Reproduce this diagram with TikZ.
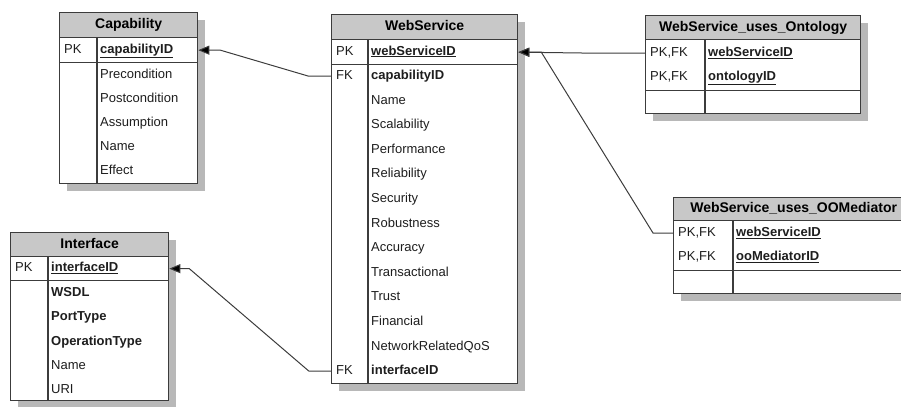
\documentclass[tikz,border=0pt]{standalone}
\usepackage{fontspec}
\setmainfont{Liberation Sans}
\usetikzlibrary{arrows.meta,positioning}
\definecolor{boxgray}{HTML}{3C3C3C}
\definecolor{headgray}{HTML}{C8C8C8}
\definecolor{shadegray}{HTML}{B8B8B8}
\definecolor{textgray}{HTML}{1E1E1E}

\begin{document}
\begin{tikzpicture}[
        x=1pt, y=-1pt,
        tblline/.style={draw=boxgray, line width=1.3pt},
        tblhead/.style={tblline, fill=headgray, anchor=north west, inner sep=0pt,
            text height=10pt, text depth=3pt, font=\fontsize{14}{16}\selectfont\bfseries},
        tblpart/.style={tblline, fill=white, anchor=north west, inner sep=0pt},
        tblshade/.style={fill=shadegray},
        field/.style={anchor=west, inner sep=0pt, text height=9.5pt, text depth=2.5pt,
            text=textgray, font=\fontsize{13}{15}\selectfont},
        keyfield/.style={field, font=\fontsize{13}{15}\selectfont\bfseries},
        fkline/.style={draw=boxgray, line width=1pt, -{Triangle[length=11pt,width=9pt,fill=black]}}
    ]
        \useasboundingbox (0,0) rectangle (901,408);
        \clip (0,0) rectangle (901,408);

        % Capability
        \fill[tblshade] (67,20) rectangle (205,191);
        \node[tblhead, minimum width=138, minimum height=25] (capHead) at (59,12) {Capability};
        \node[tblpart, minimum width=138, minimum height=25] (capKey) at (59,37) {};
        \node[tblpart, minimum width=138, minimum height=121] (capBody) at (59,62) {};
        \draw[tblline] (97,37) -- (97,183);
        \node[field] (capPK) at (64,49.5) {PK};
        \node[keyfield] (capID) at (100,49.5) {\underline{capabilityID}};
        \node[field] (capPre) at (100,75) {Precondition};
        \node[field] (capPost) at (100,99) {Postcondition};
        \node[field] (capAssum) at (100,123) {Assumption};
        \node[field] (capName) at (100,147) {Name};
        \node[field] (capEffect) at (100,171) {Effect};

        % WebService
        \fill[tblshade] (339,22) rectangle (525,391);
        \node[tblhead, minimum width=186, minimum height=25] (wsHead) at (331,14) {WebService};
        \node[tblpart, minimum width=186, minimum height=25] (wsKey) at (331,39) {};
        \node[tblpart, minimum width=186, minimum height=319] (wsBody) at (331,64) {};
        \draw[tblline] (368,39) -- (368,383);
        \node[field] (wsPK) at (336,51.5) {PK};
        \node[keyfield] (wsID) at (371,51.5) {\underline{webServiceID}};
        \node[field] (wsFKcap) at (336,76) {FK};
        \node[keyfield] (wsCap) at (371,76) {capabilityID};
        \node[field] (wsName) at (371,100.6) {Name};
        \node[field] (wsScal) at (371,125.2) {Scalability};
        \node[field] (wsPerf) at (371,149.8) {Performance};
        \node[field] (wsRel) at (371,174.4) {Reliability};
        \node[field] (wsSec) at (371,199) {Security};
        \node[field] (wsRob) at (371,223.6) {Robustness};
        \node[field] (wsAcc) at (371,248.2) {Accuracy};
        \node[field] (wsTrans) at (371,272.8) {Transactional};
        \node[field] (wsTrust) at (371,297.4) {Trust};
        \node[field] (wsFin) at (371,322) {Financial};
        \node[field] (wsNet) at (371,346.6) {NetworkRelatedQoS};
        \node[field] (wsFKint) at (336,371.2) {FK};
        \node[keyfield] (wsInt) at (371,371.2) {interfaceID};

        % Interface
        \fill[tblshade] (18,240) rectangle (176,407);
        \node[tblhead, minimum width=158, minimum height=24] (intHead) at (10,232) {Interface};
        \node[tblpart, minimum width=158, minimum height=24] (intKey) at (10,256) {};
        \node[tblpart, minimum width=158, minimum height=120] (intBody) at (10,280) {};
        \draw[tblline] (48,256) -- (48,400);
        \node[field] (intPK) at (15,268) {PK};
        \node[keyfield] (intID) at (51,268) {\underline{interfaceID}};
        \node[keyfield] (intWsdl) at (51,293) {WSDL};
        \node[keyfield] (intPort) at (51,317) {PortType};
        \node[keyfield] (intOp) at (51,342) {OperationType};
        \node[field] (intName) at (51,366) {Name};
        \node[field] (intUri) at (51,390) {URI};

        % WebService_uses_Ontology
        \fill[tblshade] (653,23) rectangle (868,121);
        \node[tblhead, minimum width=215, minimum height=24] (ontHead) at (645,15) {WebService\_uses\_Ontology};
        \node[tblpart, minimum width=215, minimum height=51] (ontKey) at (645,39) {};
        \node[tblpart, minimum width=215, minimum height=23] (ontBody) at (645,90) {};
        \draw[tblline] (705,39) -- (705,113);
        \node[field] (ontPK1) at (650,53) {PK,FK};
        \node[keyfield] (ontWs) at (708,53) {\underline{webServiceID}};
        \node[field] (ontPK2) at (650,77) {PK,FK};
        \node[keyfield] (ontOnt) at (708,77) {\underline{ontologyID}};

        % WebService_uses_OOMediator
        \fill[tblshade] (681,205) rectangle (925,301);
        \node[tblhead, minimum width=240, minimum height=23] (oomHead) at (673,197) {WebService\_uses\_OOMediator};
        \node[tblpart, minimum width=240, minimum height=50] (oomKey) at (673,220) {};
        \node[tblpart, minimum width=240, minimum height=23] (oomBody) at (673,270) {};
        \draw[tblline] (733,220) -- (733,293);
        \node[field] (oomPK1) at (678,233) {PK,FK};
        \node[keyfield] (oomWs) at (736,233) {\underline{webServiceID}};
        \node[field] (oomPK2) at (678,257) {PK,FK};
        \node[keyfield] (oomMed) at (736,257) {\underline{ooMediatorID}};

        % Foreign keys
        \draw[fkline] (wsFKcap.west -| wsBody.west) -- ++(-23,0) -- ([xshift=22]capKey.east) -- (capKey.east);
        \draw[fkline] (wsFKint.west -| wsBody.west) -- ++(-22,0) -- ([xshift=20]intKey.east) -- (intKey.east);
        \draw[fkline] (ontPK1.west -| ontKey.west) -- ++(-63,0) -- (wsKey.east);
        \draw[fkline] (oomPK1.west -| oomKey.west) -- ++(-20,0) -- ([xshift=23]wsKey.east) -- (wsKey.east);
    \end{tikzpicture}
\end{document}
